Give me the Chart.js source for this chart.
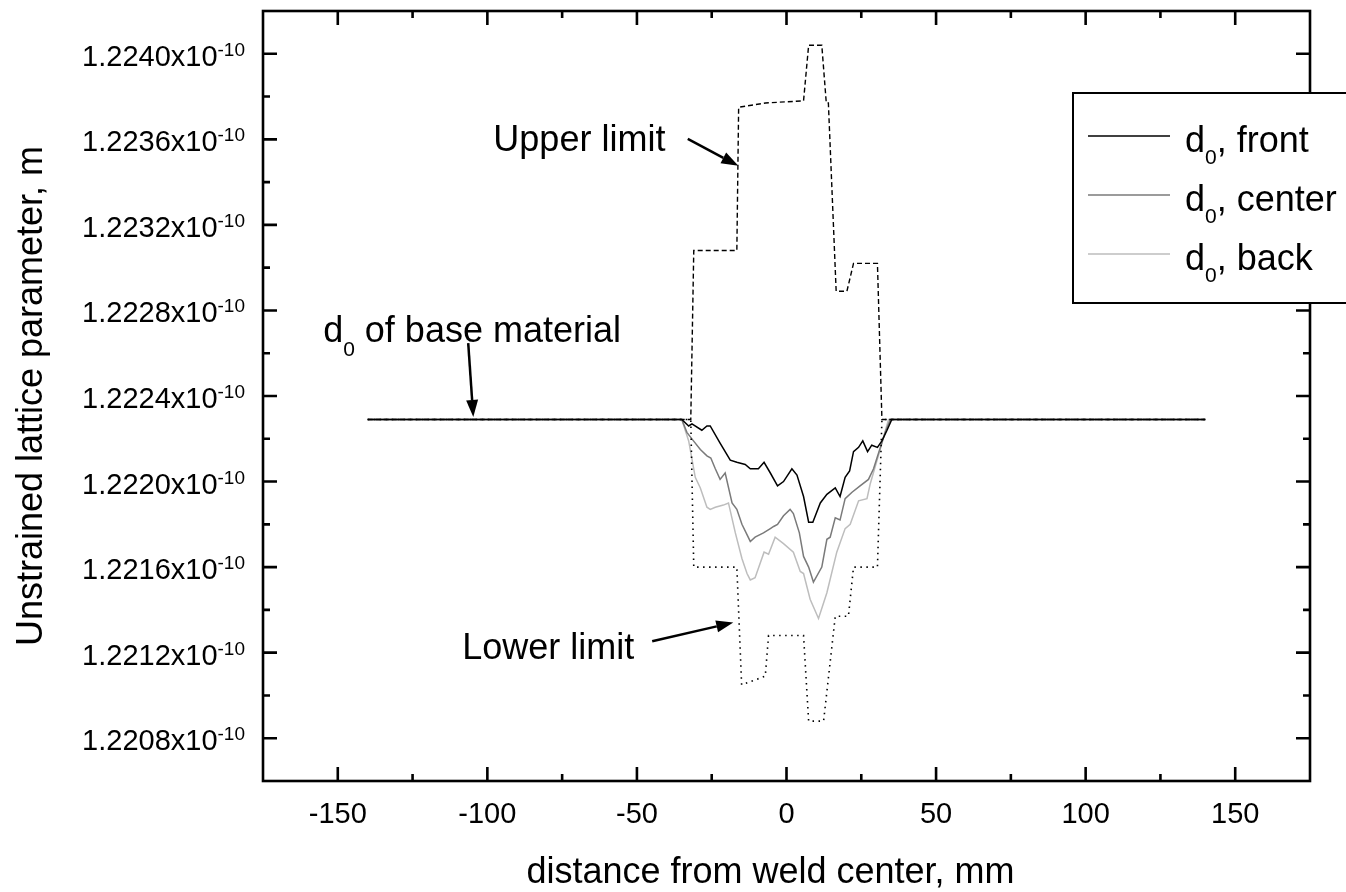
<!DOCTYPE html>
<html lang="en">
<head>
  <meta charset="UTF-8" />
  <title>Unstrained lattice parameter across the weld</title>
  <script src="https://cdn.jsdelivr.net/npm/chart.js"></script>
  <style>
    html, body { margin: 0; padding: 0; background: #fff; }
    canvas { display: block; }
  </style>
</head>
<body>
  <canvas id="chart" width="1346" height="892"></canvas>

  <script>
    // values in units of 1e-10 m, distance in mm
    const frontX = [-140, -35, -32.7, -31.6, -28.3, -26.6, -25.5, -22.2, -18.8, -16.6, -13.8, -12.1, -9.4, -7.5, -5.4, -3.0, -1.0, 1.8, 3.5, 5.7, 7.4, 8.8, 11.3, 13.5, 16.3, 17.9, 19.6, 21.1, 22.4, 24.1, 25.5, 27.1, 28.5, 30.4, 31.9, 33.6, 35.2, 140];
    const frontY = [1.22229, 1.22229, 1.22226, 1.22227, 1.22224, 1.22226, 1.22226, 1.22218, 1.22210, 1.22209, 1.22208, 1.22206, 1.22206, 1.22209, 1.22204, 1.22198, 1.22200, 1.22206, 1.22203, 1.22193, 1.22181, 1.22181, 1.22190, 1.22194, 1.22197, 1.22193, 1.22202, 1.22205, 1.22214, 1.22216, 1.22219, 1.22214, 1.22217, 1.22216, 1.22219, 1.22224, 1.22229, 1.22229];

    const centerX = [-140, -35, -33.3, -31.1, -28.8, -26.6, -25.3, -23.8, -22.2, -20.5, -18.2, -16.6, -14.9, -12.1, -10.5, -7.7, -5.4, -4.3, -3.0, -1.0, 1.2, 2.3, 4.3, 5.7, 7.4, 9.0, 11.8, 13.5, 14.6, 16.3, 17.9, 19.6, 21.9, 24.6, 27.4, 29.1, 30.7, 33.0, 34.7, 140];
    const centerY = [1.22229, 1.22229, 1.22223, 1.22219, 1.22215, 1.22212, 1.22211, 1.22206, 1.22201, 1.22204, 1.22190, 1.22187, 1.22180, 1.22172, 1.22174, 1.22176, 1.22178, 1.22179, 1.22180, 1.22184, 1.22187, 1.22185, 1.22176, 1.22165, 1.22160, 1.22153, 1.22160, 1.22173, 1.22174, 1.22183, 1.22182, 1.22192, 1.22195, 1.22198, 1.22201, 1.22206, 1.22213, 1.22223, 1.22229, 1.22229];

    const backX = [-140, -35, -32.7, -30.5, -28.8, -26.6, -25.5, -23.8, -21.1, -19.4, -17.1, -14.9, -13.2, -12.1, -10.5, -7.5, -6.0, -3.8, -1.0, 2.3, 4.6, 5.7, 7.9, 10.7, 13.5, 16.8, 19.6, 21.3, 24.1, 26.9, 28.0, 31.3, 34.1, 140];
    const backY = [1.22229, 1.22229, 1.22219, 1.22202, 1.22197, 1.22188, 1.22187, 1.22188, 1.22189, 1.22190, 1.22176, 1.22164, 1.22157, 1.22154, 1.22155, 1.22167, 1.22166, 1.22174, 1.22171, 1.22167, 1.22158, 1.22157, 1.22145, 1.22136, 1.22148, 1.22167, 1.22178, 1.22180, 1.22191, 1.22192, 1.22199, 1.22215, 1.22229, 1.22229];

    const upperX = [-140, -32, -31, -16.6, -16, -7, 5.7, 7.4, 11.8, 13.3, 14, 16.6, 20.2, 22.4, 30.4, 31.9, 140];
    const upperY = [1.22229, 1.22229, 1.22308, 1.22308, 1.22375, 1.22377, 1.22378, 1.22404, 1.22404, 1.22377, 1.22377, 1.22289, 1.22289, 1.22302, 1.22302, 1.22229, 1.22229];

    const lowerX = [-140, -32, -31, -16.6, -15, -7.1, -6, 5.7, 7.4, 12.4, 16.3, 20.7, 22.4, 30.4, 31.9, 140];
    const lowerY = [1.22229, 1.22229, 1.22160, 1.22160, 1.22105, 1.22109, 1.22128, 1.22128, 1.22088, 1.22088, 1.22137, 1.22137, 1.22160, 1.22160, 1.22229, 1.22229];

    const xTicks = [-150, -100, -50, 0, 50, 100, 150];
    const xMinorTicks = [-125, -75, -25, 25, 75, 125];
    const yTicks = [1.2208, 1.2212, 1.2216, 1.2220, 1.2224, 1.2228, 1.2232, 1.2236, 1.2240];
    const yTickLabels = ['1.2208', '1.2212', '1.2216', '1.2220', '1.2224', '1.2228', '1.2232', '1.2236', '1.2240'];
    const yMinorTicks = [1.2210, 1.2214, 1.2218, 1.2222, 1.2226, 1.2230, 1.2234, 1.2238];

    const legendNames = ['front', 'center', 'back'];

    const FONT = '"Liberation Sans", Arial, sans-serif';

    function pts(xs, ys) {
      return xs.map((x, i) => ({ x: x, y: ys[i] }));
    }

    // text with sub/superscript pieces: [text, size, dy]
    function richText(ctx, x, y, parts, align) {
      let w = 0;
      parts.forEach(p => {
        ctx.font = p[1] + 'px ' + FONT;
        w += ctx.measureText(p[0]).width;
      });
      let cx = align === 'right' ? x - w : align === 'center' ? x - w / 2 : x;
      ctx.textAlign = 'left';
      ctx.textBaseline = 'alphabetic';
      parts.forEach(p => {
        ctx.font = p[1] + 'px ' + FONT;
        ctx.fillText(p[0], cx, y + (p[2] || 0));
        cx += ctx.measureText(p[0]).width;
      });
    }

    function arrow(ctx, x1, y1, x2, y2) {
      const a = Math.atan2(y2 - y1, x2 - x1);
      const len = 17, half = 6;
      const bx = x2 - len * Math.cos(a), by = y2 - len * Math.sin(a);
      ctx.beginPath();
      ctx.moveTo(x1, y1);
      ctx.lineTo(bx, by);
      ctx.lineWidth = 2.5;
      ctx.stroke();
      ctx.beginPath();
      ctx.moveTo(x2, y2);
      ctx.lineTo(bx + half * Math.sin(a), by - half * Math.cos(a));
      ctx.lineTo(bx - half * Math.sin(a), by + half * Math.cos(a));
      ctx.closePath();
      ctx.fill();
    }

    const framePlugin = {
      id: 'frame',
      afterDraw(chart) {
        const { ctx, chartArea: ca, scales } = chart;
        const sx = scales.x, sy = scales.y;
        ctx.save();
        ctx.strokeStyle = '#000';
        ctx.fillStyle = '#000';
        ctx.lineCap = 'butt';

        // frame + inward ticks on all sides
        ctx.lineWidth = 2.6;
        ctx.strokeRect(ca.left, ca.top, ca.right - ca.left, ca.bottom - ca.top);
        const tick = (vals, len, horiz) => {
          vals.forEach(v => {
            ctx.beginPath();
            if (horiz) {
              const px = sx.getPixelForValue(v);
              ctx.moveTo(px, ca.bottom); ctx.lineTo(px, ca.bottom - len);
              ctx.moveTo(px, ca.top); ctx.lineTo(px, ca.top + len);
            } else {
              const py = sy.getPixelForValue(v);
              ctx.moveTo(ca.left, py); ctx.lineTo(ca.left + len, py);
              ctx.moveTo(ca.right, py); ctx.lineTo(ca.right - len, py);
            }
            ctx.stroke();
          });
        };
        tick(xTicks, 14, true);
        tick(xMinorTicks, 7, true);
        tick(yTicks, 14, false);
        tick(yMinorTicks, 7, false);

        // tick labels
        xTicks.forEach(v => {
          richText(ctx, sx.getPixelForValue(v), ca.bottom + 42, [[String(v), 29, 0]], 'center');
        });
        yTicks.forEach((v, i) => {
          const py = sy.getPixelForValue(v);
          richText(ctx, ca.left - 18, py + 12, [[yTickLabels[i] + 'x10', 29, 0], ['-10', 19, -10]], 'right');
        });

        // x axis title (sits a little left of the plot centre in the original)
        richText(ctx, (ca.left + ca.right) / 2 - 16, ca.bottom + 102, [['distance from weld center, mm', 36, 0]], 'center');

        // annotations
        const P = (x, y) => [sx.getPixelForValue(x), sy.getPixelForValue(y)];
        let a = P(-33, 1.223602), b = P(-16.1, 1.223476);
        arrow(ctx, a[0], a[1], b[0], b[1]);
        let t = P(-98, 1.223546);
        richText(ctx, t[0], t[1], [['Upper limit', 36, 0]], 'left');

        a = P(-44.9, 1.221253); b = P(-17.8, 1.221341);
        arrow(ctx, a[0], a[1], b[0], b[1]);
        t = P(-108.4, 1.221169);
        richText(ctx, t[0], t[1], [['Lower limit', 36, 0]], 'left');

        a = P(-106.4, 1.222647); b = P(-104.7, 1.222302);
        arrow(ctx, a[0], a[1], b[0], b[1]);
        t = P(-154.9, 1.222651);
        richText(ctx, t[0], t[1], [['d', 36, 0], ['0', 21, 14], [' of base material', 36, 0]], 'left');

        // legend box
        const lx = ca.right - 237, ly = ca.top + 82;
        ctx.fillStyle = '#fff';
        ctx.fillRect(lx, ly, 400, 210);
        ctx.lineWidth = 2;
        ctx.strokeRect(lx, ly, 400, 210);
        const ds = chart.data.datasets.slice(2);
        ds.forEach((d, i) => {
          const ry = ly + 43 + i * 59;
          ctx.strokeStyle = d.borderColor;
          ctx.lineWidth = d.borderWidth;
          ctx.beginPath();
          ctx.moveTo(lx + 15, ry); ctx.lineTo(lx + 97, ry);
          ctx.stroke();
          ctx.fillStyle = '#000';
          richText(ctx, lx + 112, ry + 16, [['d', 36, 0], ['0', 21, 12], [', ' + legendNames[i], 36, 0]], 'left');
        });
        ctx.restore();
      }
    };

    const line = (data, color, width, dash) => ({
      data: data,
      showLine: true,
      borderColor: color,
      borderWidth: width,
      borderDash: dash || [],
      pointRadius: 0,
      fill: false,
      tension: 0
    });

    new Chart(document.getElementById('chart'), {
      type: 'scatter',
      data: {
        datasets: [
          line(pts(upperX, upperY), '#000', 1.4, [5, 3]),
          line(pts(lowerX, lowerY), '#000', 1.6, [1.5, 4.5]),
          line(pts(frontX, frontY), '#000', 1.5),
          line(pts(centerX, centerY), '#7a7a7a', 1.5),
          line(pts(backX, backY), '#bdbdbd', 1.5)
        ]
      },
      options: {
        responsive: false,
        animation: false,
        layout: { padding: { top: 11, right: 36, left: 0, bottom: 0 } },
        plugins: {
          legend: { display: false },
          tooltip: { enabled: false }
        },
        scales: {
          x: {
            type: 'linear',
            min: -175,
            max: 175,
            grid: { display: false },
            border: { display: false },
            ticks: { display: false },
            title: { display: false },
            afterFit(s) { s.height = 111; }
          },
          y: {
            type: 'linear',
            min: 1.2206,
            max: 1.2242,
            grid: { display: false },
            border: { display: false },
            ticks: { display: false },
            title: {
              display: true,
              text: 'Unstrained lattice parameter, m',
              color: '#000',
              font: { family: FONT, size: 36 },
              padding: { top: 10, bottom: 0 }
            },
            afterFit(s) { s.width = 263; }
          }
        }
      },
      plugins: [framePlugin]
    });
  </script>
</body>
</html>
